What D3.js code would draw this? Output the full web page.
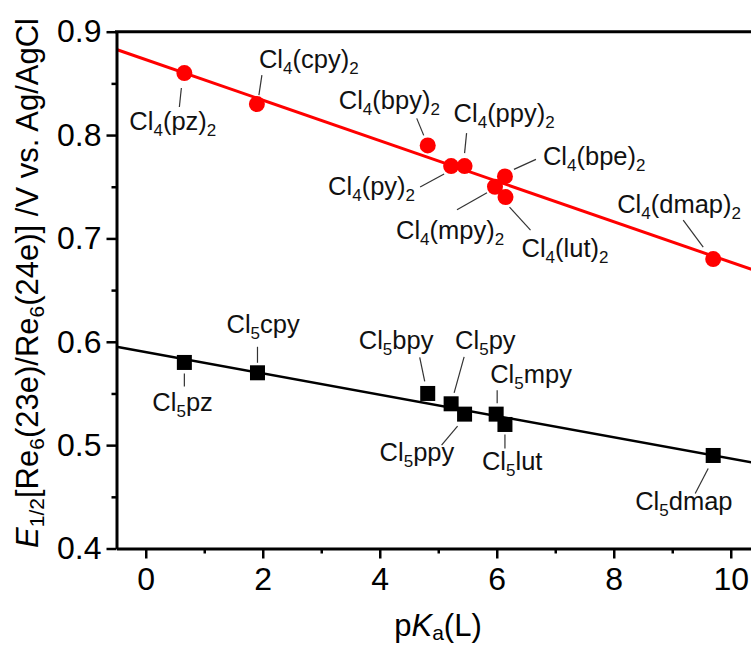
<!DOCTYPE html>
<html><head><meta charset="utf-8">
<script src="https://cdn.jsdelivr.net/npm/d3@7"></script>
<style>body{margin:0;background:#fff}svg{display:block}text{font-family:"Liberation Sans",Arial,sans-serif}</style>
</head><body>
<svg id="c" width="751" height="648"></svg>
<script>
// ---- data ----
const ligands4 = ["pz","cpy","bpy","py","ppy","bpe","mpy","lut","dmap"];
const pKa4     = [0.66, 1.90, 4.82, 5.22, 5.45, 6.14, 5.97, 6.15, 9.70];
const E4       = [0.86, 0.83, 0.79, 0.77, 0.77, 0.76, 0.75, 0.74, 0.68];
const ligands5 = ["pz","cpy","bpy","py","ppy","mpy","lut","dmap"];
const pKa5     = [0.66, 1.91, 4.82, 5.22, 5.45, 5.99, 6.14, 9.70];
const E5       = [0.58, 0.57, 0.55, 0.54, 0.53, 0.53, 0.52, 0.49];
const fit4 = [0.873, -0.0196];   // intercept, slope
const fit5 = [0.590, -0.0103];
const xTicks = [0, 2, 4, 6, 8, 10];
const yTicks = [0.4, 0.5, 0.6, 0.7, 0.8, 0.9];

// ---- label layout (pixel offsets from point: text start, leader line) ----
const lay4 = {
  pz:  {t:[-55,57],  l:[-3,15,-5,34]},
  cpy: {t:[2,-36],   l:[5,-29,2,-9]},
  bpy: {t:[-89,-36], l:[-11,-27,-4,-10]},
  py:  {t:[-123,29], l:[-31,21,-7,8]},
  ppy: {t:[-11,-44], l:[2,-33,0,-13]},
  bpe: {t:[38,-11],  l:[9,-7,31,-17]},
  mpy: {t:[-99,52],  l:[-38,23,-8,6]},
  lut: {t:[16,60],   l:[4,10,25,33]},
  dmap:{t:[-96,-46], l:[-30,-39,-10,-12]}
};
const lay5 = {
  pz:  {t:[-32,49],  l:[0,11,0,24]},
  cpy: {t:[-31,-40], l:[0,-26,0,-10]},
  bpy: {t:[-69,-44], l:[-8,-36,-3,-12]},
  py:  {t:[4,-55],   l:[13,-47,3,-11]},
  ppy: {t:[-85,47],  l:[-7,12,-23,31]},
  mpy: {t:[-6,-31],  l:[1,-24,1,-11]},
  lut: {t:[-23,46],  l:[0,10,0,24]},
  dmap:{t:[-78,55],  l:[-5,13,-18,38]}
};

const svg = d3.select("#c");
const x = d3.scaleLinear().domain([-0.5, 10.5]).range([116.5, 760]);
const y = d3.scaleLinear().domain([0.4, 0.9]).range([548.5, 31.7]);
const FF = "Liberation Sans, Arial, sans-serif";

// fit lines
svg.append("clipPath").attr("id","pc").append("rect")
  .attr("x",116.5).attr("y",31.7).attr("width",760-116.5).attr("height",548.5-31.7);
const line = d3.line().x(d=>x(d[0])).y(d=>y(d[1]));
function fitPts(f){ return [-0.5, 10.5].map(v=>[v, f[0]+f[1]*v]); }
const g = svg.append("g").attr("clip-path","url(#pc)");
g.append("path").attr("d", line(fitPts(fit4))).attr("stroke","#ff0000").attr("stroke-width",3).attr("fill","none");
g.append("path").attr("d", line(fitPts(fit5))).attr("stroke","#000").attr("stroke-width",2.5).attr("fill","none");

// axes
const xAxis = d3.axisBottom(x).tickValues(xTicks).tickSize(10).tickSizeOuter(0).tickFormat(d3.format("d"));
const gx = svg.append("g").attr("transform","translate(0,548.5)").call(xAxis);
gx.select(".domain").attr("stroke-width",3);
gx.selectAll(".tick line").attr("stroke-width",2.5);
gx.selectAll(".tick text").attr("font-size",32).attr("y",14).attr("dy","0.85em").attr("fill","#000").style("font-family",FF);
svg.append("g").attr("transform","translate(0,548.5)")
  .call(d3.axisBottom(x).tickValues(d3.range(1,11,2)).tickSize(5).tickFormat(""))
  .call(s=>{s.select(".domain").remove(); s.selectAll("line").attr("stroke-width",2.5);});

const yAxis = d3.axisLeft(y).tickValues(yTicks).tickSize(10).tickSizeOuter(0).tickFormat(d3.format(".1f"));
const gy = svg.append("g").attr("transform","translate(116.5,0)").call(yAxis);
gy.select(".domain").attr("stroke-width",3);
gy.selectAll(".tick line").attr("stroke-width",2.5);
gy.selectAll(".tick text").attr("font-size",32).attr("x",-15).attr("fill","#000").style("font-family",FF);
svg.append("g").attr("transform","translate(116.5,0)")
  .call(d3.axisLeft(y).tickValues([0.45,0.55,0.65,0.75,0.85]).tickSize(5).tickFormat(""))
  .call(s=>{s.select(".domain").remove(); s.selectAll("line").attr("stroke-width",2.5);});
// frame
svg.append("line").attr("x1",115).attr("x2",760).attr("y1",y(0.9)).attr("y2",y(0.9)).attr("stroke","#000").attr("stroke-width",3);
svg.append("line").attr("x1",760).attr("x2",760).attr("y1",y(0.9)).attr("y2",y(0.4)).attr("stroke","#000").attr("stroke-width",3);

// axis titles
const xt = svg.append("text").attr("x",438).attr("y",636).attr("text-anchor","middle").attr("font-size",31);
xt.append("tspan").text("p");
xt.append("tspan").attr("font-style","italic").text("K");
xt.append("tspan").attr("font-size",21).attr("dy",4).text("a");
xt.append("tspan").attr("dy",-4).text("(L)");

const yt = svg.append("text").attr("transform","translate(38,283) rotate(-90)").attr("text-anchor","middle").attr("font-size",31);
yt.append("tspan").attr("font-style","italic").text("E");
yt.append("tspan").attr("font-size",21).attr("dy",6).text("1/2");
yt.append("tspan").attr("dy",-6).text("[Re");
yt.append("tspan").attr("font-size",21).attr("dy",6).text("6");
yt.append("tspan").attr("dy",-6).text("(23e)/Re");
yt.append("tspan").attr("font-size",21).attr("dy",6).text("6");
yt.append("tspan").attr("dy",-6).text("(24e)] /V vs. Ag/AgCl");

// labels
function drawLabels(names, xs, ys, lay, four){
  names.forEach((n,i)=>{
    const px = x(xs[i]), py = y(ys[i]), L = lay[n];
    svg.append("line").attr("x1",px+L.l[0]).attr("y1",py+L.l[1]).attr("x2",px+L.l[2]).attr("y2",py+L.l[3])
      .attr("stroke","#333").attr("stroke-width",1.2);
    const t = svg.append("text").attr("x",px+L.t[0]).attr("y",py+L.t[1]).attr("font-size",25.5).attr("fill","#111");
    t.append("tspan").text("Cl");
    t.append("tspan").attr("font-size",17).attr("dy",6).text(four ? "4" : "5");
    if (four){
      t.append("tspan").attr("dy",-6).text("("+n+")");
      t.append("tspan").attr("font-size",17).attr("dy",6).text("2");
    } else {
      t.append("tspan").attr("dy",-6).text(n);
    }
  });
}
drawLabels(ligands4, pKa4, E4, lay4, true);
drawLabels(ligands5, pKa5, E5, lay5, false);

// markers
svg.append("g").selectAll("circle").data(pKa4.map((v,i)=>[v,E4[i]])).join("circle")
  .attr("cx",d=>x(d[0])).attr("cy",d=>y(d[1])).attr("r",8).attr("fill","#ff0000");
svg.append("g").selectAll("rect").data(pKa5.map((v,i)=>[v,E5[i]])).join("rect")
  .attr("x",d=>x(d[0])-7.5).attr("y",d=>y(d[1])-7.5).attr("width",15).attr("height",15).attr("fill","#000");
</script>
</body></html>
